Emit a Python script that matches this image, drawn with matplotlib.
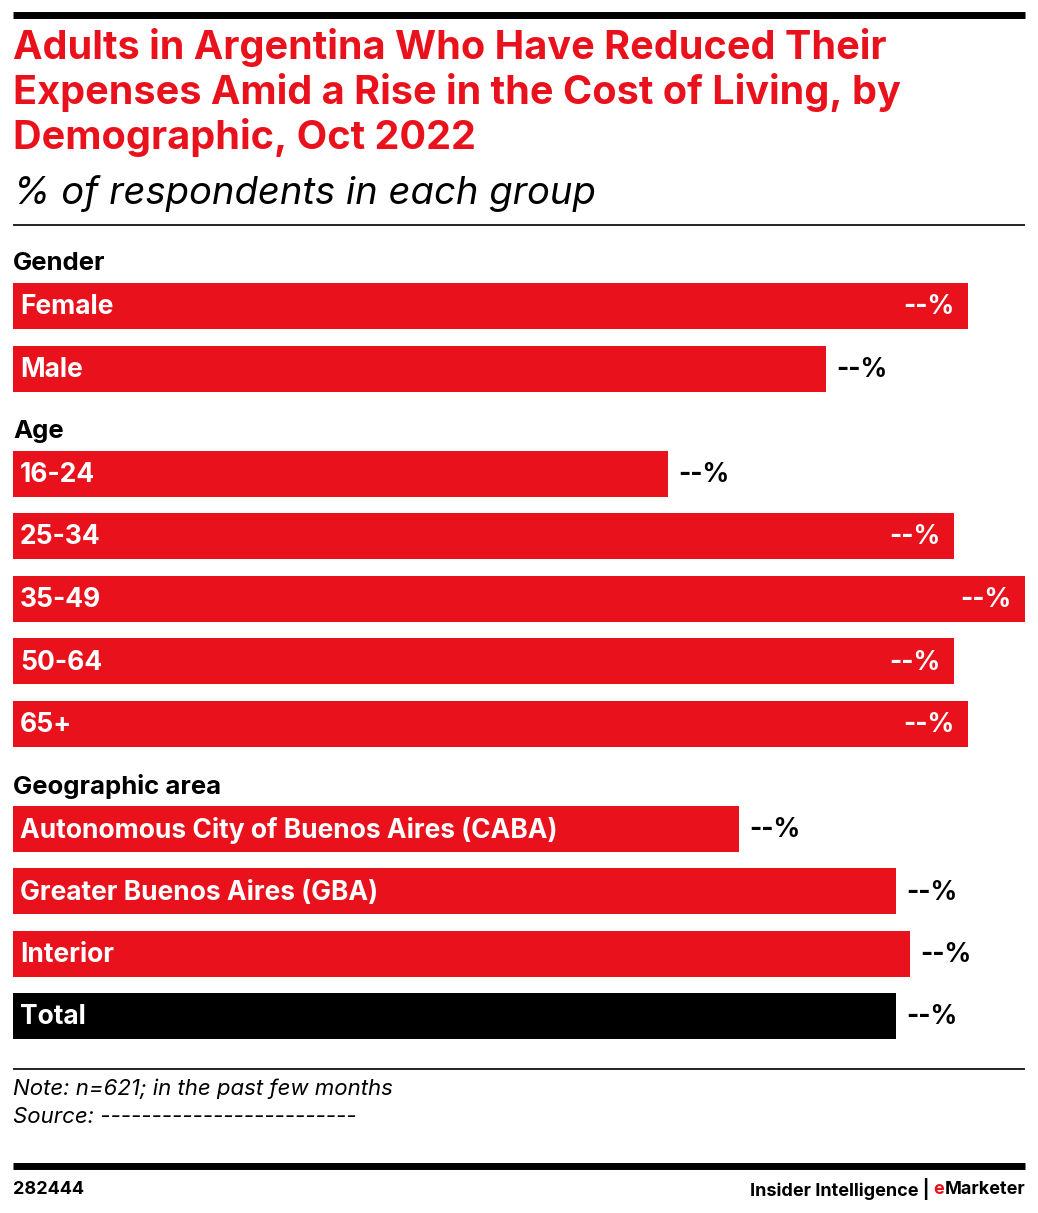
import matplotlib.pyplot as plt
from matplotlib.lines import Line2D

groups = ["Gender", "Age", "Geographic area", None]
categories = [
    ["Female", "Male"],
    ["16-24", "25-34", "35-49", "50-64", "65+"],
    ["Autonomous City of Buenos Aires (CABA)", "Greater Buenos Aires (GBA)", "Interior"],
    ["Total"],
]
values = [
    [68.2, 58.1],
    [46.8, 67.2, 72.3, 67.2, 68.2],
    [51.9, 63.1, 64.1],
    [63.1],
]
value_labels = "--%"

RED = "#E8111C"
W, H = 1038, 1213
fig = plt.figure(figsize=(W / 100, H / 100), dpi=100)
plt.rcParams['font.family'] = ['Inter', 'DejaVu Sans']

# background axes in pixel coords for text and rules
bg = fig.add_axes([0, 0, 1, 1])
bg.set_xlim(0, W)
bg.set_ylim(H, 0)
bg.axis("off")

def hline(y, lw, color="black"):
    bg.add_line(Line2D([13, 1025], [y, y], lw=lw, color=color, solid_capstyle="butt"))

hline(15, 5)
bg.text(13, 28, "Adults in Argentina Who Have Reduced Their\nExpenses Amid a Rise in the Cost of Living, by\nDemographic, Oct 2022",
        color=RED, fontsize=28.5, fontweight="bold", va="top", linespacing=1.2)
bg.text(13, 193, "% of respondents in each group", fontsize=27.5, style="italic", va="center")
hline(225, 1.2)
hline(1069, 1.2)
bg.text(13, 1089, "Note: n=621; in the past few months", fontsize=16, style="italic", va="center")
bg.text(13, 1117, "Source: -------------------------", fontsize=16, style="italic", va="center")
hline(1166, 5)
bg.text(13, 1189, "282444", fontsize=13, fontweight="bold", va="center")
mk = bg.text(1025, 1189, "Marketer", fontsize=13, fontweight="bold", va="center", ha="right")
fig.canvas.draw()
inv = bg.transData.inverted()
x0 = inv.transform(mk.get_window_extent().p0)[0]
e = bg.text(x0, 1189, "e", fontsize=13, fontweight="bold", va="center", ha="right", color=RED)
fig.canvas.draw()
x1 = inv.transform(e.get_window_extent().p0)[0]
bg.text(x1 - 4, 1189, "Insider Intelligence |", fontsize=13, fontweight="bold", va="center", ha="right")

# bar axes: x in percent, y in pixel rows
top, bottom = 240, 1050
ax = fig.add_axes([13 / W, 1 - bottom / H, (1025 - 13) / W, (bottom - top) / H])
ax.set_ylim(bottom, top)
vmax = max(max(v) for v in values)
ax.set_xlim(0, vmax)
ax.axis("off")

y = 263
for g, cats, vals in zip(groups, categories, values):
    if g is not None:
        ax.text(0, y + 1, g, fontsize=18.5, fontweight="bold", va="center", ha="left")
        y += 43
    for cat, v in zip(cats, vals):
        color = "black" if cat == "Total" else RED
        ax.barh(y, v, height=46, color=color)
        ax.text(vmax * 0.007, y + 1.5, cat, color="white", fontsize=19, fontweight="bold", va="center")
        if v > 65:
            ax.text(v - vmax * 0.013, y + 1.5, value_labels, color="white", fontsize=19, fontweight="bold",
                    va="center", ha="right")
        else:
            ax.text(v + vmax * 0.01, y + 1.5, value_labels, color="black", fontsize=19, fontweight="bold",
                    va="center", ha="left")
        y += 62.5
    y -= 0.5

fig.savefig("out.png", dpi=100)
